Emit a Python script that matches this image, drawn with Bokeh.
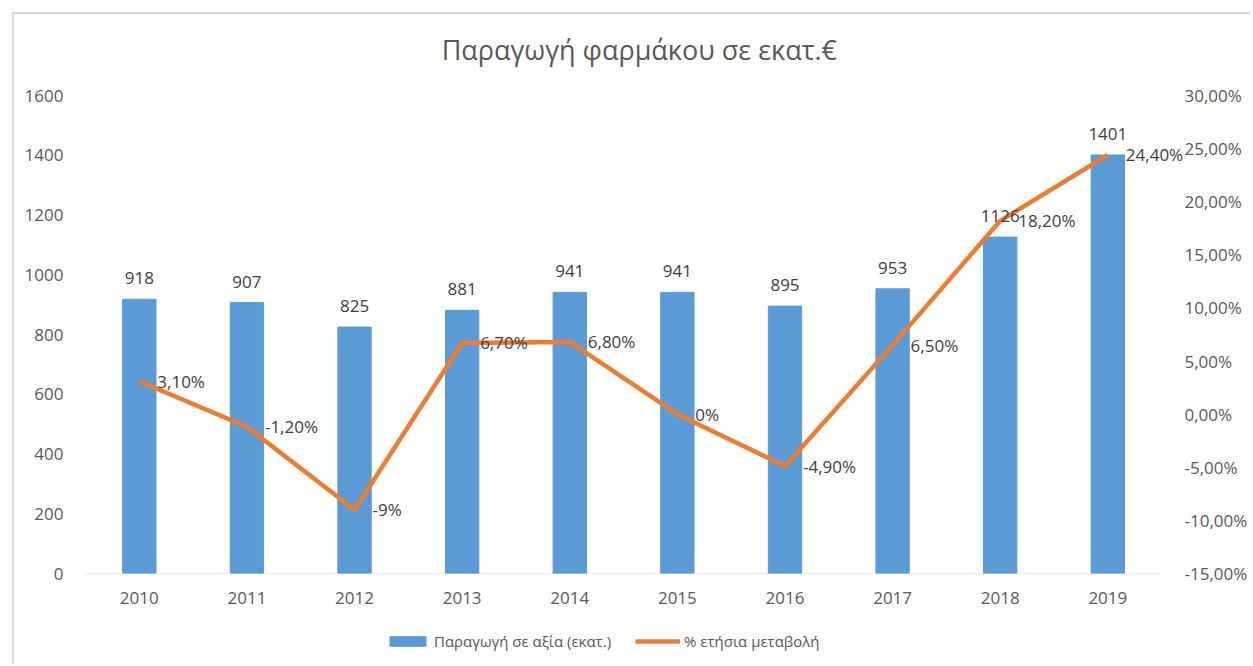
from bokeh.plotting import figure
from bokeh.layouts import column
from bokeh.models import Range1d, LinearAxis, FixedTicker, Legend, LegendItem
from bokeh.core.properties import value
from bokeh.embed import file_html
from bokeh.resources import INLINE

title_text = "Παραγωγή φαρμάκου σε εκατ.€"
years = ["2010", "2011", "2012", "2013", "2014", "2015", "2016", "2017", "2018", "2019"]
production = [918, 907, 825, 881, 941, 941, 895, 953, 1126, 1401]
pct_change = [3.1, -1.2, -9.0, 6.7, 6.8, 0.0, -4.9, 6.5, 18.2, 24.4]
pct_labels = ["3,10%", "-1,20%", "-9%", "6,70%", "6,80%", "0%", "-4,90%", "6,50%", "18,20%", "24,40%"]
left_ticks = [0, 200, 400, 600, 800, 1000, 1200, 1400, 1600]
right_ticks = [-15, -10, -5, 0, 5, 10, 15, 20, 25, 30]
right_tick_labels = ["-15,00%", "-10,00%", "-5,00%", "0,00%", "5,00%", "10,00%",
                     "15,00%", "20,00%", "25,00%", "30,00%"]
legend_labels = ["Παραγωγή σε αξία (εκατ.)", "% ετήσια μεταβολή"]

FONT = "Open Sans"
TICK_COLOR = "#595959"
LABEL_COLOR = "#404040"
BLUE = "#5B9BD5"
ORANGE = "#ED7D31"

SHIFT = 14              # outer frame border (12px margin + 2px line)
W = 1250 - SHIFT
HEAD_H = 66
CAT_PX = 108.1          # pixels per category
EXTRA_PX = 30           # room at the right for the last line label
n = len(years)
xs = list(range(n))
x_end = n - 0.5 + EXTRA_PX / CAT_PX
frame_w = int(round((x_end + 0.5) * CAT_PX))
left_b = 85 - SHIFT

# ---- header with the title ----
hd = figure(width=W, height=HEAD_H, x_range=Range1d(0, W), y_range=Range1d(0, HEAD_H),
            output_backend="svg", toolbar_location=None,
            x_axis_location=None, y_axis_location=None, min_border=0,
            min_border_left=0, min_border_right=0, min_border_top=0, min_border_bottom=0)
hd.outline_line_color = None
hd.grid.visible = False
hd.text(x=[398], y=[31], text=[title_text],
        text_align="left", text_baseline="alphabetic",
        text_font=value(FONT), text_font_size="27px", text_color=TICK_COLOR)

# ---- main chart ----
p = figure(width=W, height=15 + 478 + 45, x_range=Range1d(-0.5, x_end),
           y_range=Range1d(0, 1600), output_backend="svg", toolbar_location=None,
           min_border_left=left_b, min_border_right=W - left_b - frame_w,
           min_border_top=15, min_border_bottom=45)
p.extra_y_ranges = {"pct": Range1d(-15, 30)}
p.outline_line_color = None
p.xgrid.visible = False
p.ygrid.visible = False

# category baseline (x axis line) only under the categories
p.segment(x0=[-0.5], x1=[n - 0.5], y0=[0], y1=[0], line_color="#D9D9D9", line_width=1)

bars = p.vbar(x=xs, top=production, width=0.31, color=BLUE)
line = p.line(x=xs, y=pct_change, y_range_name="pct", line_width=4.5,
              color=ORANGE, line_join="round")

p.text(x=xs, y=production, text=[str(v) for v in production],
       text_align="center", text_baseline="alphabetic", y_offset=-21,
       text_font=value(FONT), text_font_size="17px", text_color=LABEL_COLOR)
p.text(x=xs, y=pct_change, text=pct_labels, y_range_name="pct",
       x_offset=18, text_align="left", text_baseline="middle",
       text_font=value(FONT), text_font_size="17px", text_color=LABEL_COLOR)

yl = p.yaxis[0]
yl.ticker = FixedTicker(ticks=left_ticks)
xa = p.xaxis[0]
xa.ticker = FixedTicker(ticks=xs)
xa.major_label_overrides = dict(zip(xs, years))
ry = LinearAxis(y_range_name="pct", ticker=FixedTicker(ticks=right_ticks),
                major_label_overrides=dict(zip(right_ticks, right_tick_labels)))
p.add_layout(ry, "right")

for ax in (yl, ry, xa):
    ax.axis_line_color = None
    ax.major_tick_line_color = None
    ax.minor_tick_line_color = None
    ax.major_label_text_font = FONT
    ax.major_label_text_font_size = "17px"
    ax.major_label_text_color = TICK_COLOR
yl.major_label_standoff = 16
ry.major_label_standoff = 17 - EXTRA_PX
xa.major_label_standoff = 12

# ---- legend strip below the chart (sample glyphs kept outside the visible range) ----
lg = figure(width=W, height=46, x_range=Range1d(0, W), y_range=Range1d(0, 46),
            output_backend="svg", toolbar_location=None,
            x_axis_location=None, y_axis_location=None, min_border=0)
lg.outline_line_color = None
lg.grid.visible = False
lb = lg.vbar(x=[-1000], top=[-1000], width=1, color=BLUE)
ll = lg.line(x=[-1000, -999], y=[-1000, -1000], line_width=4.5, color=ORANGE)
legend = Legend(items=[LegendItem(label=legend_labels[0], renderers=[lb]),
                       LegendItem(label=legend_labels[1], renderers=[ll])],
                orientation="horizontal", location=(300, 13),
                border_line_color=None, background_fill_alpha=0,
                label_text_font=FONT, label_text_font_size="15px",
                label_text_color=TICK_COLOR, glyph_width=45, glyph_height=12,
                spacing=24, label_standoff=4, padding=0, margin=0)
lg.add_layout(legend, "center")

layout = column(hd, p, lg, spacing=0,
                styles={"border-left": "2px solid #D9D9D9", "border-top": "2px solid #D9D9D9",
                        "margin-left": "12px", "margin-top": "12px"})
open("out.html", "w").write(file_html(layout, INLINE))
